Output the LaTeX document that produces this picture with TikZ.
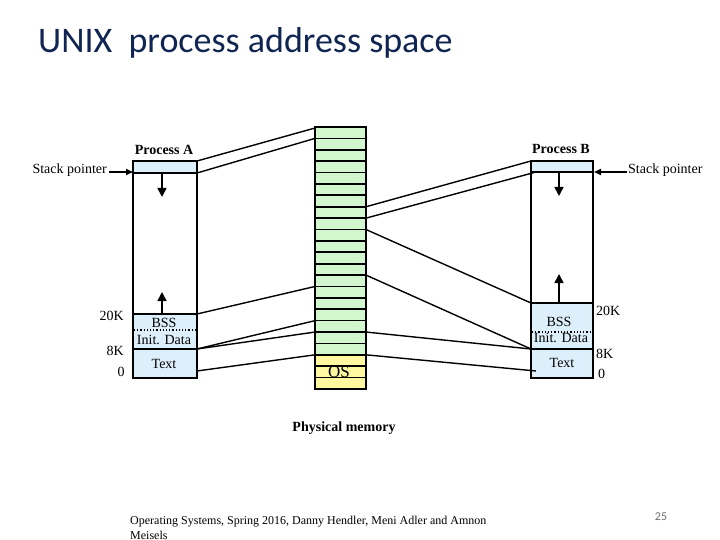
\documentclass[tikz,border=0pt]{standalone}
\usepackage{fontspec}
\setmainfont{Liberation Serif}
\newfontfamily\titlefont{Carlito}
\usetikzlibrary{arrows.meta}
\definecolor{titleblue}{RGB}{16,37,82}
\definecolor{boxblue}{RGB}{221,239,251}
\definecolor{memgreen}{RGB}{210,246,206}
\definecolor{memyellow}{RGB}{255,248,160}
\definecolor{pagegray}{RGB}{110,110,110}
\tikzset{
  lbl/.style={inner sep=0pt, font=\fontsize{14}{16}\selectfont},
  blbl/.style={inner sep=0pt, font=\bfseries\fontsize{14}{16}\selectfont},
  boxline/.style={line width=2pt},
  mapline/.style={line width=1.4pt},
  segline/.style={line width=1.8pt},
  rowline/.style={line width=1.7pt},
  growarrow/.style={line width=1.6pt, -{Triangle[width=9pt,length=9pt]}},
  sparrow/.style={line width=1.6pt, -{Triangle[width=6pt,length=7pt]}},
}
\begin{document}
\begin{tikzpicture}[x=1pt,y=-1pt]
\useasboundingbox (0,0) rectangle (720,540);
\fill[white] (0,0) rectangle (720,540);

% title
\node[anchor=base west, inner sep=0pt, font=\titlefont\fontsize{36}{42}\selectfont, text=titleblue] (title) at (38,53) {UNIX\ \ process address space};

% ---------- Process A ----------
\coordinate (A-tl) at (133,161);
\coordinate (A-tr) at (197,161);
\coordinate (A-sr) at (197,173);
\coordinate (A-20r) at (197,314);
\coordinate (A-8r) at (197,349);
\coordinate (A-0r) at (197,371);
\fill[boxblue] (133,161) rectangle (197,173);
\fill[boxblue] (133,314) rectangle (197,378);
\draw[segline] (133,173) -- (197,173);
\draw[segline] (133,314) -- (197,314);
\draw[segline] (133,349) -- (197,349);
\draw[line width=1.2pt, dotted] (134,330) -- (196,330);
\draw[boxline] (133,161) rectangle (197,378);
\node[blbl] (procA) at (164,150) {Process A};
\node[lbl] (A-bss) at (164,323) {BSS};
\node[lbl] (A-init) at (164,340) {Init. Data};
\node[lbl] (A-text) at (164,364) {Text};
\node[lbl, anchor=east] (A-20k) at (124,316) {20K};
\node[lbl, anchor=east] (A-8k) at (124,351) {8K};
\node[lbl] (A-0) at (121,372) {0};
\coordinate (A-dn1) at (162,173);
\coordinate (A-dn2) at (162,197);
\draw[growarrow] (A-dn1) -- (A-dn2);
\coordinate (A-up1) at (162,314);
\coordinate (A-up2) at (162,292);
\draw[growarrow] (A-up1) -- (A-up2);
\node[lbl, anchor=east] (spA) at (107,170) {Stack pointer};
\coordinate (spA-start) at (109,172);
\coordinate (spA-end) at (133,172);
\draw[sparrow] (spA-start) -- (spA-end);

% ---------- Process B ----------
\coordinate (B-tl) at (531,161);
\coordinate (B-sl) at (536,172);
\coordinate (B-20l) at (531,303);
\coordinate (B-8l) at (531,349);
\coordinate (B-0l) at (536,371);
\fill[boxblue] (531,161) rectangle (593,172);
\fill[boxblue] (531,303) rectangle (593,378);
\draw[segline] (531,172) -- (593,172);
\draw[segline] (531,303) -- (593,303);
\draw[segline] (531,349) -- (593,349);
\draw[line width=1.2pt, dotted] (532,332) -- (592,332);
\draw[boxline] (531,161) rectangle (593,378);
\node[blbl] (procB) at (561,149) {Process B};
\node[lbl] (B-bss) at (559,322) {BSS};
\node[lbl] (B-init) at (561,338) {Init. Data};
\node[lbl] (B-text) at (562,363) {Text};
\node[lbl, anchor=west] (B-20k) at (596,311) {20K};
\node[lbl, anchor=west] (B-8k) at (596,354) {8K};
\node[lbl, anchor=west] (B-0) at (598,374) {0};
\coordinate (B-dn1) at (559,172);
\coordinate (B-dn2) at (559,196);
\draw[growarrow] (B-dn1) -- (B-dn2);
\coordinate (B-up1) at (559,303);
\coordinate (B-up2) at (559,274);
\draw[growarrow] (B-up1) -- (B-up2);
\node[lbl, anchor=west] (spB) at (628,170) {Stack pointer};
\coordinate (spB-start) at (627,172);
\coordinate (spB-end) at (594,172);
\draw[sparrow] (spB-start) -- (spB-end);

% ---------- Physical memory ----------
\fill[memgreen] (315,127) rectangle (366,354.8);
\fill[memyellow] (315,354.8) rectangle (366,389);
\foreach \k in {1,...,22} {
  \draw[rowline] (315,{127+11.391*\k}) -- (366,{127+11.391*\k});
}
\draw[boxline] (315,127) rectangle (366,389);
\node[inner sep=0pt, font=\fontsize{17}{19}\selectfont] (os) at (339,372) {OS};
\foreach \k in {1,14,17,18,20} {
  \coordinate (ML\k) at (315,{127+11.391*\k});
}
\foreach \k in {7,8,9,13,18,20} {
  \coordinate (MR\k) at (366,{127+11.391*\k});
}
\coordinate (ML0) at (315,128);
\node[blbl] (phys) at (344,428) {Physical memory};

% mappings Process A -> memory
\draw[mapline] (A-tr) -- (ML0);
\draw[mapline] (A-sr) -- (ML1);
\draw[mapline] (A-20r) -- (ML14);
\draw[mapline] (A-8r) -- (ML17);
\draw[mapline] (A-8r) -- (ML18);
\draw[mapline] (A-0r) -- (ML20);

% mappings memory -> Process B
\draw[mapline] (MR7) -- (B-tl);
\draw[mapline] (MR8) -- (B-sl);
\draw[mapline] (MR9) -- (B-20l);
\draw[mapline] (MR13) -- (B-8l);
\draw[mapline] (MR18) -- (B-8l);
\draw[mapline] (MR20) -- (B-0l);

% footer
\node[anchor=north west, inner sep=0pt, align=left, font=\fontsize{12}{15}\selectfont] (footer) at (130,516) {Operating Systems, Spring 2016, Danny Hendler, Meni Adler and Amnon\\Meisels};
\node[inner sep=0pt, font=\titlefont\fontsize{12}{14}\selectfont, text=pagegray] (pagenum) at (661,517) {25};
\end{tikzpicture}
\end{document}
